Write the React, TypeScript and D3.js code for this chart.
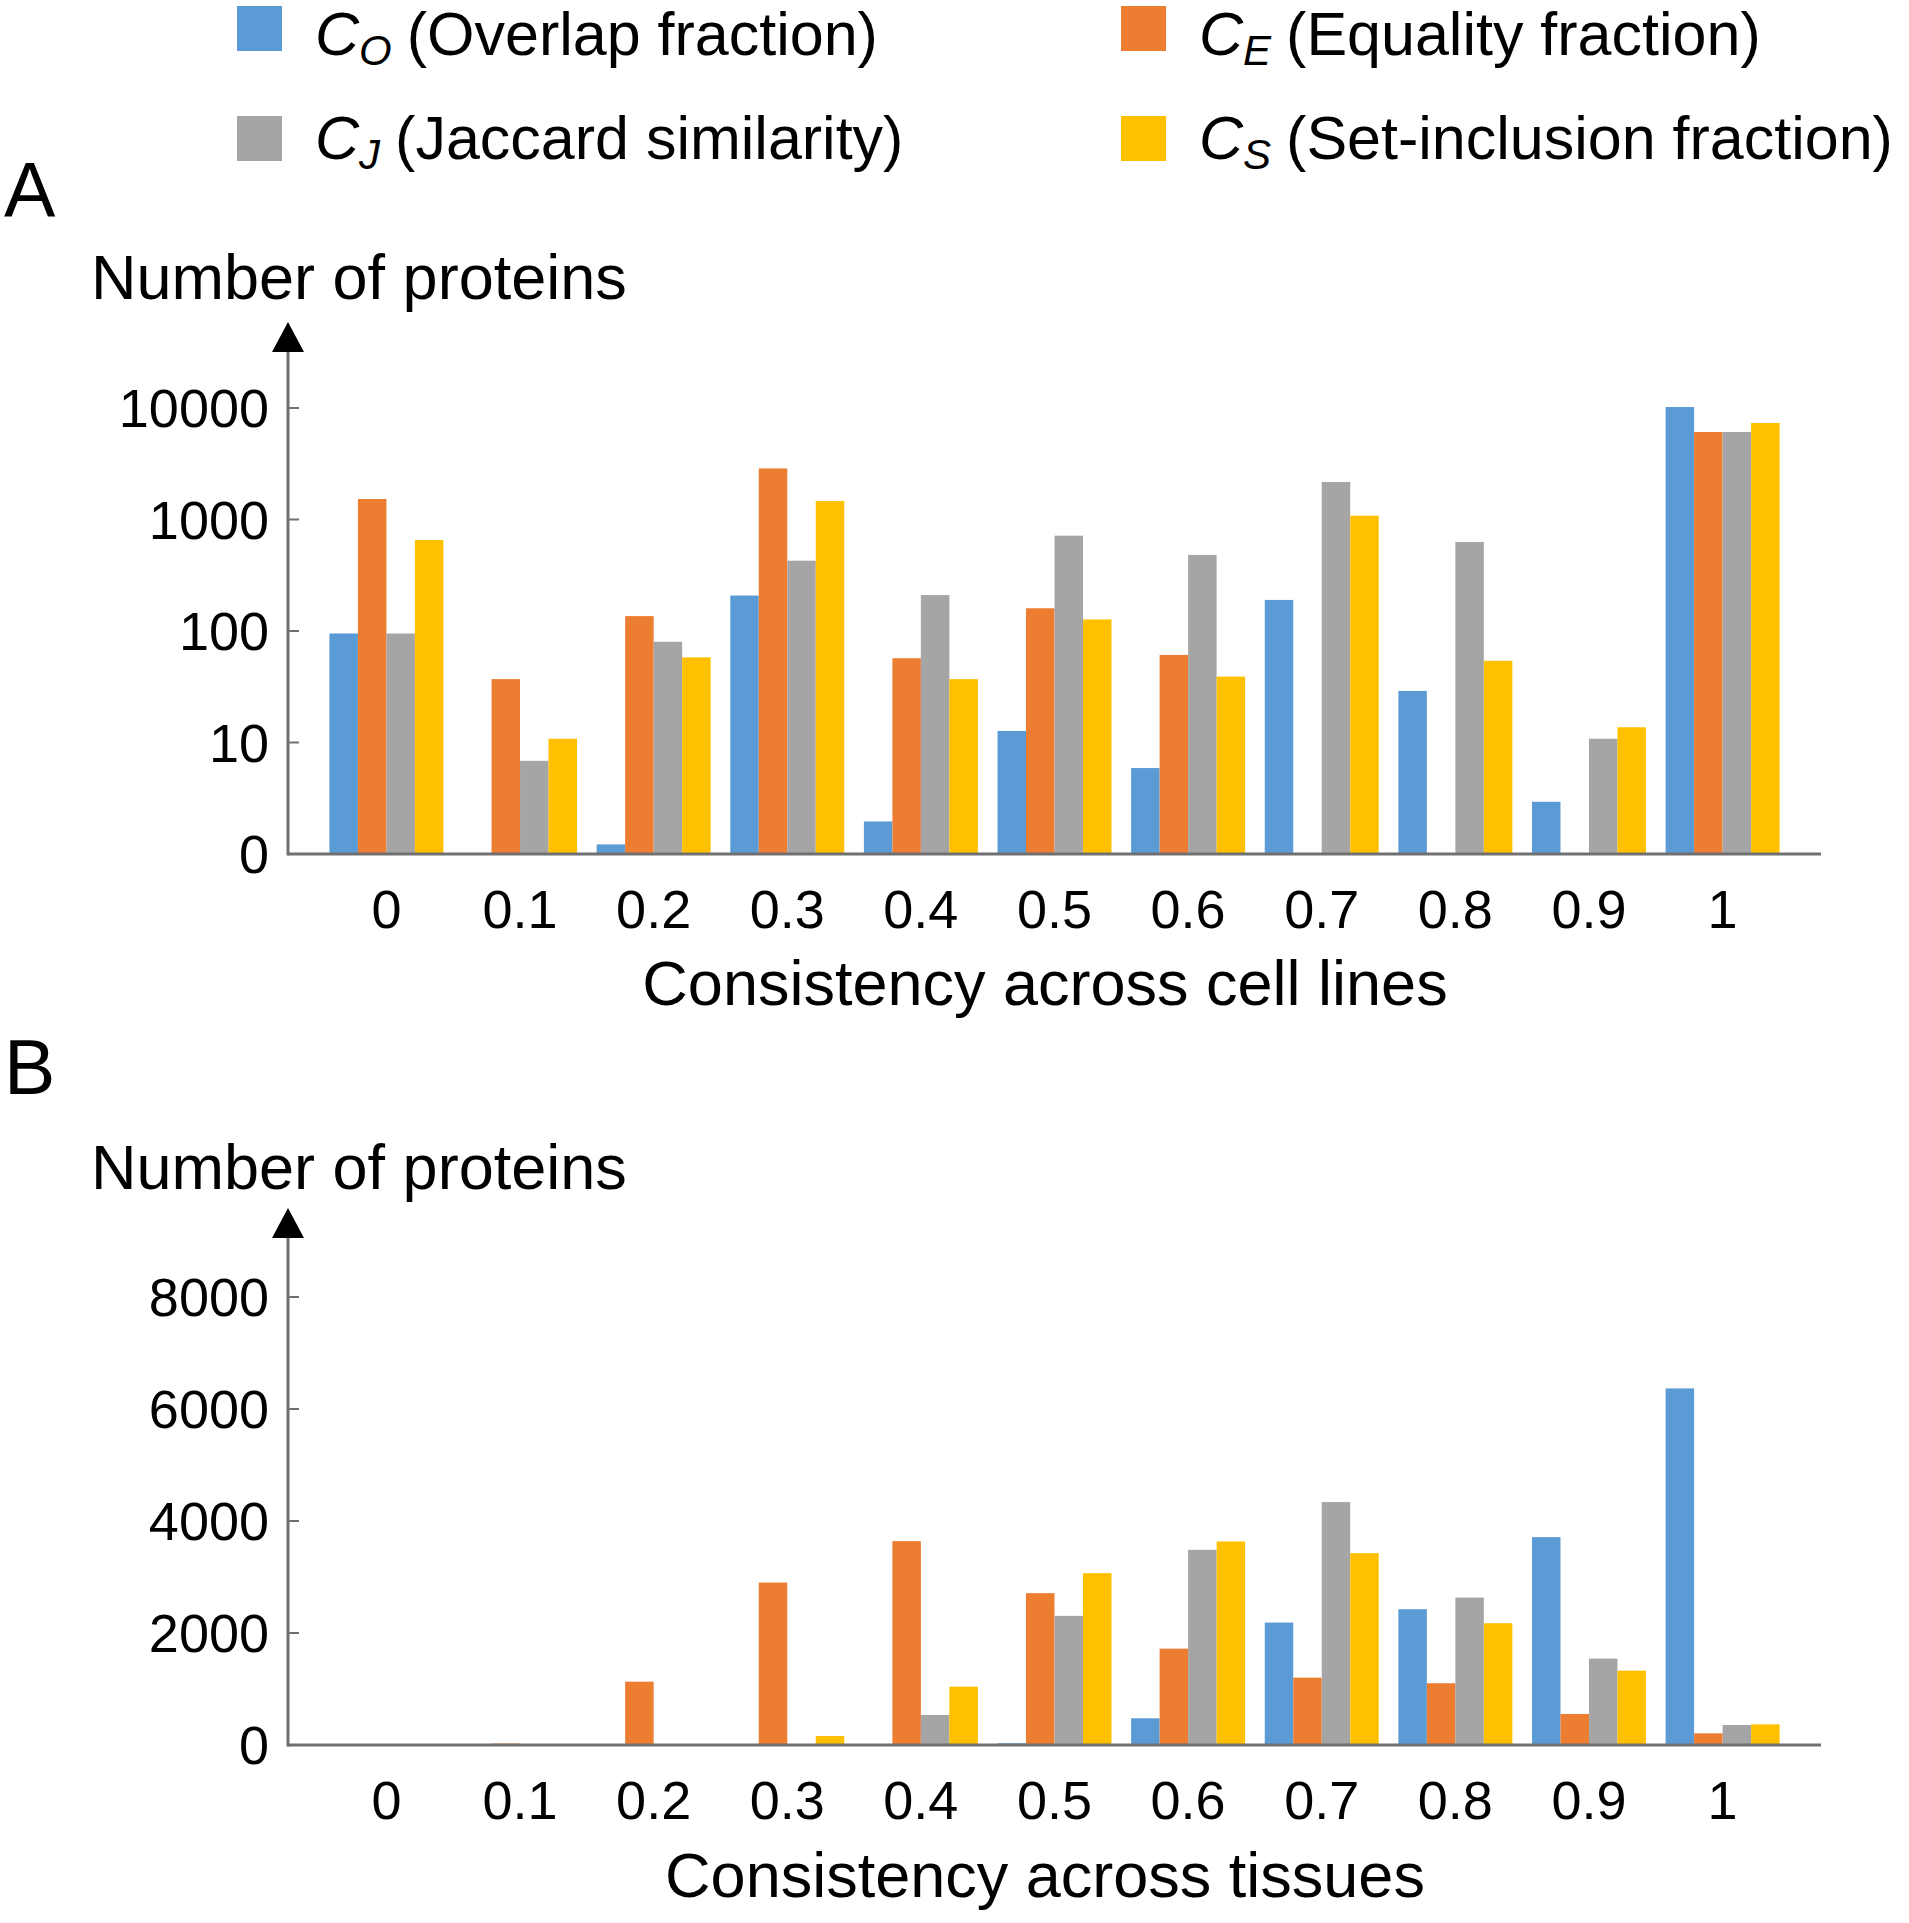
import React from "react";
import * as d3 from "d3";

const categories = ["0", "0.1", "0.2", "0.3", "0.4", "0.5", "0.6", "0.7", "0.8", "0.9", "1"];
const seriesKeys = ["CO", "CE", "CJ", "CS"];
const seriesColors = ["#5B9BD5", "#ED7D31", "#A5A5A5", "#FFC000"];

// Panel A (cell lines, log scale)
const cellCO = [95, 0, 1.22, 208, 1.96, 12.7, 5.9, 190, 29, 2.94, 10200];
const cellCE = [1527, 37, 136, 2870, 57, 160, 61, 0, 0, 0, 6090];
const cellCJ = [95, 6.85, 80, 427, 210, 716, 481, 2170, 629, 10.8, 6090];
const cellCS = [655, 10.8, 58, 1466, 37, 127, 39, 1082, 54, 13.7, 7340];
const cellTicks = [1, 10, 100, 1000, 10000];
const cellTickLabels = ["0", "10", "100", "1000", "10000"];

// Panel B (tissues, linear)
const tisCO = [0, 0, 0, 0, 0, 30, 477, 2186, 2425, 3712, 6368];
const tisCE = [0, 25, 1131, 2901, 3641, 2711, 1721, 1203, 1103, 554, 208];
const tisCJ = [0, 0, 0, 0, 536, 2306, 3485, 4338, 2633, 1543, 357];
const tisCS = [0, 0, 0, 161, 1042, 3069, 3634, 3426, 2175, 1328, 369];
const tisTicks = [0, 2000, 4000, 6000, 8000];

const legendItems = [
  { main: "C", sub: "O", rest: "(Overlap fraction)" },
  { main: "C", sub: "E", rest: "(Equality fraction)" },
  { main: "C", sub: "J", rest: "(Jaccard similarity)" },
  { main: "C", sub: "S", rest: "(Set-inclusion fraction)" },
];

const FONT = "'Liberation Sans', Arial, sans-serif";
const AXIS = "#707070";

function Panel({ data, y, ticks, tickLabels, axisY, arrowTip, letter, letterY, titleY, xTitle, xTitleY, xLabelY, isLog }) {
  const x0 = d3.scaleBand().domain(categories).range([288, 1821]).paddingInner(0.147).paddingOuter(0.31);
  const x1 = d3.scaleBand().domain(seriesKeys).range([0, x0.bandwidth()]);
  const base = axisY;
  return (
    <g>
      <text x={4} y={letterY} fontSize={77} fontFamily={FONT}>{letter}</text>
      <text x={91} y={titleY} fontSize={63} fontFamily={FONT}>Number of proteins</text>
      {categories.map((c, i) => (
        <g key={c}>
          {seriesKeys.map((s, j) => {
            const v = data[j][i];
            const top = isLog ? (v > 1 ? y(v) : base) : y(v);
            const h = base - top;
            if (h <= 0) return null;
            return (
              <rect key={s} x={x0(c) + x1(s)} y={top} width={x1.bandwidth()} height={h} fill={seriesColors[j]} />
            );
          })}
          <text x={x0(c) + x0.bandwidth() / 2} y={xLabelY} fontSize={54} fontFamily={FONT} textAnchor="middle">{c}</text>
        </g>
      ))}
      <line x1={288} x2={288} y1={base + 1.5} y2={arrowTip + 20} stroke={AXIS} strokeWidth={3} />
      <path d={`M288,${arrowTip} L272,${arrowTip + 30} L304,${arrowTip + 30} Z`} fill="#000" />
      <line x1={288} x2={1821} y1={base} y2={base} stroke={AXIS} strokeWidth={3} />
      {ticks.map((t, k) => (
        <g key={t}>
          <line x1={288} x2={299} y1={y(t)} y2={y(t)} stroke={AXIS} strokeWidth={2} />
          <text x={269} y={y(t) + 19} fontSize={54} fontFamily={FONT} textAnchor="end">{tickLabels[k]}</text>
        </g>
      ))}
      <text x={1045} y={xTitleY} fontSize={63} fontFamily={FONT} textAnchor="middle">{xTitle}</text>
    </g>
  );
}

export default function App() {
  const yA = d3.scaleLog().domain([1, 10000]).range([854, 408]);
  const yB = d3.scaleLinear().domain([0, 8000]).range([1745, 1297]);
  const legendPos = [
    { sx: 237, tx: 315, y: 6, by: 55 },
    { sx: 1121, tx: 1199, y: 6, by: 55 },
    { sx: 237, tx: 315, y: 116, by: 159 },
    { sx: 1121, tx: 1199, y: 116, by: 159 },
  ];
  return (
    <svg width={1909} height={1923} style={{ position: "absolute", left: 0, top: 0, background: "#fff" }}>
      <rect width={1909} height={1923} fill="#fff" />
      {legendItems.map((it, i) => {
        const p = legendPos[i];
        return (
          <g key={i}>
            <rect x={p.sx} y={p.y} width={45} height={45} fill={seriesColors[i]} />
            <text x={p.tx} y={p.by} fontSize={61} fontFamily={FONT}>
              <tspan fontStyle="italic">{it.main}</tspan>
              <tspan fontStyle="italic" fontSize={42} dy={10}>{it.sub}</tspan>
              <tspan dy={-10} dx={15}>{it.rest}</tspan>
            </text>
          </g>
        );
      })}
      <Panel
        data={[cellCO, cellCE, cellCJ, cellCS]}
        y={yA}
        ticks={cellTicks}
        tickLabels={cellTickLabels}
        axisY={854}
        arrowTip={322}
        letter="A"
        letterY={217}
        titleY={299}
        xTitle="Consistency across cell lines"
        xTitleY={1005}
        xLabelY={928}
        isLog={true}
      />
      <Panel
        data={[tisCO, tisCE, tisCJ, tisCS]}
        y={yB}
        ticks={tisTicks}
        tickLabels={tisTicks.map(String)}
        axisY={1745}
        arrowTip={1208}
        letter="B"
        letterY={1094}
        titleY={1189}
        xTitle="Consistency across tissues"
        xTitleY={1897}
        xLabelY={1819}
        isLog={false}
      />
    </svg>
  );
}
